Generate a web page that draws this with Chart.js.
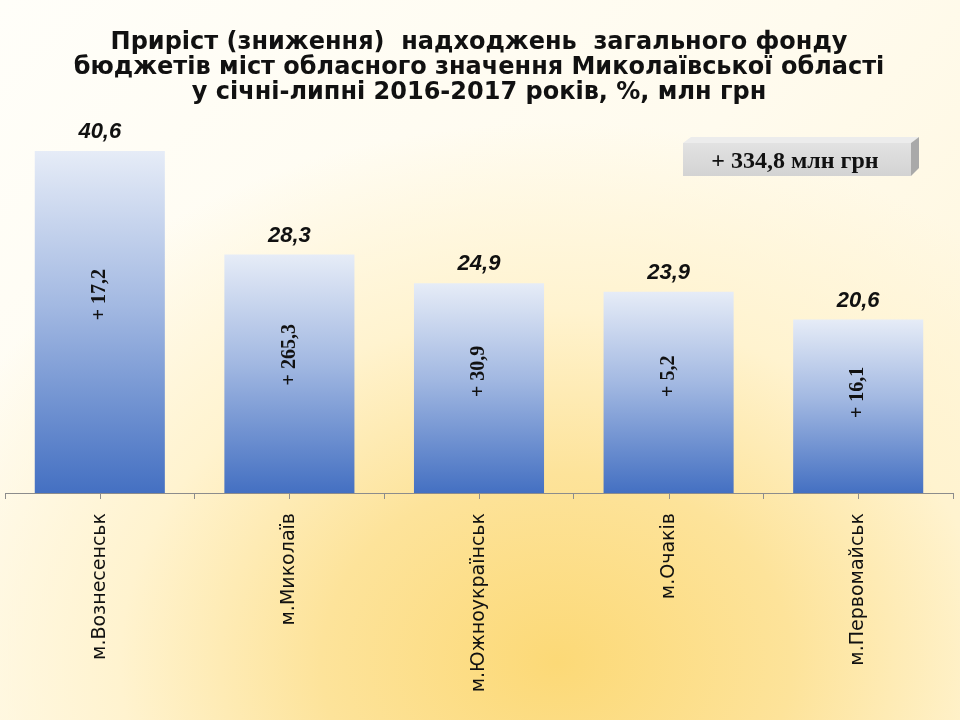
<!DOCTYPE html>
<html>
<head>
<meta charset="utf-8">
<script src="https://cdn.jsdelivr.net/npm/chart.js@4.4.1/dist/chart.umd.min.js"></script>
<style>
  html, body { margin: 0; padding: 0; }
  body {
    width: 960px; height: 720px; overflow: hidden;
    background:
      radial-gradient(ellipse 70% 75% at 58% 92%, #fcd977 0%, #fde39a 35%, #fff3cf 65%, rgba(255,252,240,0) 100%),
      linear-gradient(135deg, #fffef9 0%, #fffbee 50%, #fff4d4 100%);
  }
  #wrap { position: relative; width: 960px; height: 720px; }
</style>
</head>
<body>
<div id="wrap"><canvas id="c" width="960" height="720"></canvas></div>
<script>
const titleLines = [
  'Приріст (зниження)  надходжень  загального фонду',
  'бюджетів міст обласного значення Миколаївської області',
  'у січні-липні 2016-2017 років, %, млн грн'
];
const categories = ['м.Вознесенськ', 'м.Миколаїв', 'м.Южноукраїнськ', 'м.Очаків', 'м.Первомайськ'];
const growthPercent = [40.6, 28.3, 24.9, 23.9, 20.6];
const growthAmount = ['+ 17,2', '+ 265,3', '+ 30,9', '+ 5,2', '+ 16,1'];
const totalText = '+ 334,8 млн грн';

const fmt = v => v.toFixed(1).replace('.', ',');

const barLabels = {
  id: 'barLabels',
  afterDatasetsDraw(chart) {
    const ctx = chart.ctx;
    const meta = chart.getDatasetMeta(0);
    const xs = chart.scales.x;
    ctx.save();
    // centre tick marks
    ctx.strokeStyle = '#8c8c8c';
    ctx.lineWidth = 1;
    meta.data.forEach((bar, i) => {
      const x = Math.round(xs.getPixelForValue(i)) + 0.5;
      ctx.beginPath();
      ctx.moveTo(x, chart.chartArea.bottom);
      ctx.lineTo(x, chart.chartArea.bottom + 6);
      ctx.stroke();
    });
    meta.data.forEach((bar, i) => {
      // value above bar
      ctx.fillStyle = '#111';
      ctx.font = 'italic bold 22px "Liberation Sans", Arial, sans-serif';
      ctx.textAlign = 'center';
      ctx.textBaseline = 'bottom';
      ctx.fillText(fmt(growthPercent[i]), bar.x, bar.y - 8);
      // rotated amount inside bar
      const cy = bar.base - (bar.base - bar.y) * 0.58;
      ctx.save();
      ctx.translate(bar.x, cy);
      ctx.rotate(-Math.PI / 2);
      ctx.font = 'bold 20px "Liberation Serif", "Times New Roman", serif';
      ctx.textBaseline = 'middle';
      ctx.fillText(growthAmount[i], 0, 0);
      ctx.restore();
    });
    // 3D total box
    const bx = 683, by = 143, bw = 228, bh = 33, d = 8;
    ctx.fillStyle = '#ececec';
    ctx.beginPath();
    ctx.moveTo(bx, by); ctx.lineTo(bx + d, by - d + 2); ctx.lineTo(bx + bw + d, by - d + 2); ctx.lineTo(bx + bw, by);
    ctx.closePath(); ctx.fill();
    ctx.fillStyle = '#a9a9a9';
    ctx.beginPath();
    ctx.moveTo(bx + bw, by); ctx.lineTo(bx + bw + d, by - d + 2); ctx.lineTo(bx + bw + d, by + bh - d); ctx.lineTo(bx + bw, by + bh);
    ctx.closePath(); ctx.fill();
    const g = ctx.createLinearGradient(0, by, 0, by + bh);
    g.addColorStop(0, '#e2e2e2');
    g.addColorStop(1, '#d3d3d3');
    ctx.fillStyle = g;
    ctx.fillRect(bx, by, bw, bh);
    ctx.fillStyle = '#111';
    ctx.font = 'bold 24px "Liberation Serif", "Times New Roman", serif';
    ctx.textAlign = 'center';
    ctx.textBaseline = 'middle';
    ctx.fillText(totalText, bx + bw / 2 - 2, by + bh / 2 + 2);
    ctx.restore();
  }
};

new Chart(document.getElementById('c'), {
  type: 'bar',
  data: {
    labels: categories,
    datasets: [{
      data: growthPercent,
      barPercentage: 0.686,
      categoryPercentage: 1,
      backgroundColor(context) {
        const chart = context.chart;
        const ys = chart.scales.y;
        if (!chart.chartArea || !ys || context.dataIndex === undefined) return '#7f9fd8';
        const top = ys.getPixelForValue(growthPercent[context.dataIndex]);
        const bottom = ys.getPixelForValue(0);
        if (!isFinite(top) || !isFinite(bottom)) return '#7f9fd8';
        const g = chart.ctx.createLinearGradient(0, top, 0, bottom);
        g.addColorStop(0, '#e6ecf7');
        g.addColorStop(0.45, '#a3b9e2');
        g.addColorStop(1, '#4470c2');
        return g;
      },
      borderWidth: 0
    }]
  },
  plugins: [barLabels],
  options: {
    responsive: false,
    animation: false,
    layout: { padding: { left: 5, right: 7, top: 0, bottom: 0 } },
    plugins: {
      legend: { display: false },
      tooltip: { enabled: false },
      title: {
        display: true,
        text: titleLines,
        color: '#111',
        font: { family: '"DejaVu Sans", Verdana, sans-serif', size: 24, weight: 'bold', lineHeight: 1.04 },
        padding: { top: 30, bottom: 9 }
      }
    },
    scales: {
      y: { display: false, min: 0, max: 45 },
      x: {
        grid: { display: true, drawOnChartArea: false, offset: true, color: '#8c8c8c', tickLength: 6 },
        border: { display: true, color: '#8c8c8c' },
        ticks: {
          color: '#111',
          maxRotation: 90, minRotation: 90,
          padding: 14,
          font: { family: '"DejaVu Sans", Verdana, sans-serif', size: 19 }
        },
        afterFit(scale) { scale.height = 227; }
      }
    }
  }
});
</script>
</body>
</html>
